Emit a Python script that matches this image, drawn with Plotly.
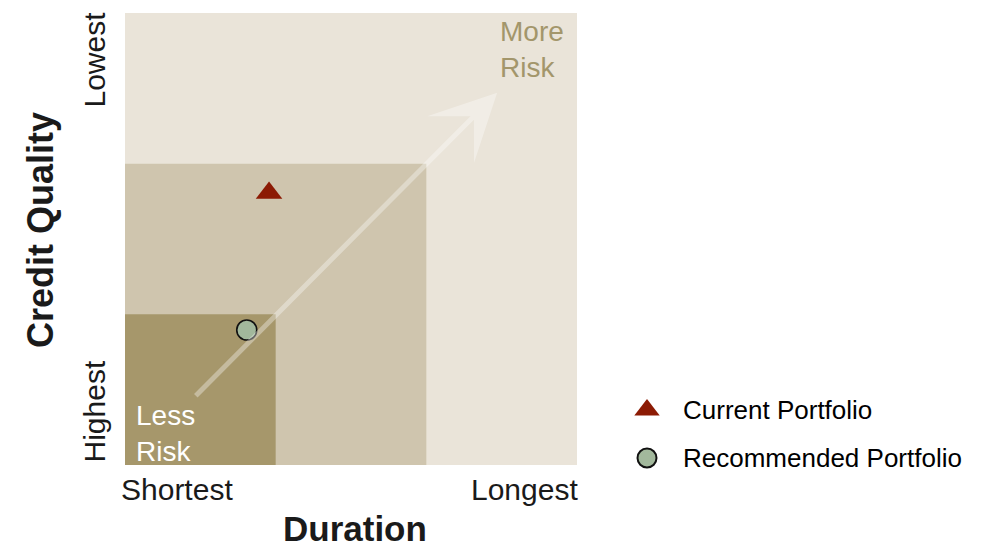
import plotly.graph_objects as go

# Risk zones (upper bound on both axes, scale 0-3), from outermost to innermost
zone_bounds = [3, 2, 1]
zone_colors = ["#EAE4D9", "#CFC5AE", "#A6976B"]

# Portfolio positions (duration, credit quality) on the 0-3 scale
portfolio_names = ["Current Portfolio", "Recommended Portfolio"]
portfolio_x = [0.956, 0.808]
portfolio_y = [1.805, 0.896]
portfolio_symbols = ["triangle-up", "circle"]
portfolio_colors = ["#8C1B04", "#A2B89C"]
portfolio_sizes = [23, 20]
portfolio_outline = [0, 1.6]

# Risk direction arrow (tail -> head)
arrow_x = [0.46, 2.47]
arrow_y = [0.45, 2.47]

x_tick_labels = ["Shortest", "Longest"]
y_tick_labels = ["Highest", "Lowest"]

FONT = "Liberation Sans, Arial, sans-serif"
W, H = 981, 548
ML, MR, MT, MB = 125, 0, 13, 83
PLOT_W = W - ML - MR
PLOT_H = H - MT - MB
MAIN_W = 452                     # width of the square risk grid in px


def px(xp):
    """Horizontal pixel -> paper fraction."""
    return (xp - ML) / PLOT_W


def py(yp):
    """Vertical pixel -> paper fraction."""
    return (H - MB - yp) / PLOT_H


fig = go.Figure()

# Nested risk squares
for bound, color in zip(zone_bounds, zone_colors):
    fig.add_shape(type="rect", xref="x", yref="y", x0=0, y0=0, x1=bound, y1=bound,
                  fillcolor=color, line_width=0, layer="below")

# Portfolio markers
for i, name in enumerate(portfolio_names):
    fig.add_trace(go.Scatter(
        x=[portfolio_x[i]], y=[portfolio_y[i]], mode="markers", name=name,
        showlegend=False, xaxis="x", yaxis="y",
        marker=dict(symbol=portfolio_symbols[i], size=portfolio_sizes[i],
                    color=portfolio_colors[i],
                    line=dict(width=portfolio_outline[i], color="#111111")),
    ))

# Key (drawn on its own hidden axes so its symbols keep full size)
key_rows = list(range(len(portfolio_names)))
for i, name in enumerate(portfolio_names):
    fig.add_trace(go.Scatter(
        x=[0.0], y=[-key_rows[i]], mode="markers", name=name,
        showlegend=False, xaxis="x2", yaxis="y2", cliponaxis=False,
        marker=dict(symbol=portfolio_symbols[i], size=portfolio_sizes[i] - 1,
                    color=portfolio_colors[i],
                    line=dict(width=portfolio_outline[i] + (0.4 if i else 0), color="#111111")),
    ))
    fig.add_annotation(x=0.0, y=-key_rows[i], xref="x2", yref="y2", xshift=34,
                       text=name, showarrow=False, xanchor="left", yanchor="middle",
                       font=dict(family=FONT, size=26, color="#000000"))

# Arrow pointing toward higher risk
fig.add_annotation(x=arrow_x[1], y=arrow_y[1], ax=arrow_x[0], ay=arrow_y[0],
                   xref="x", yref="y", axref="x", ayref="y", text="",
                   showarrow=True, arrowhead=3, arrowsize=2.2, arrowwidth=5,
                   arrowcolor="rgba(255,255,255,0.35)", standoff=0, startstandoff=0)

# Zone captions
fig.add_annotation(x=px(498), y=py(49), xref="paper", yref="paper", text="More<br>Risk",
                   showarrow=False, xanchor="left", yanchor="middle", align="left",
                   font=dict(family=FONT, size=28, color="#A3966B"))
fig.add_annotation(x=px(134), y=py(433), xref="paper", yref="paper", text="Less<br>Risk",
                   showarrow=False, xanchor="left", yanchor="middle", align="left",
                   font=dict(family=FONT, size=28, color="#FFFFFF"))

# Axis end labels
tick_font = dict(family=FONT, size=30, color="#1a1a1a")
fig.add_annotation(x=px(119), y=py(465), xref="paper", yref="paper", yshift=-6,
                   text=x_tick_labels[0], showarrow=False, xanchor="left", yanchor="top",
                   font=tick_font)
fig.add_annotation(x=px(580), y=py(465), xref="paper", yref="paper", yshift=-6,
                   text=x_tick_labels[1], showarrow=False, xanchor="right", yanchor="top",
                   font=tick_font)
fig.add_annotation(x=px(112), y=py(465), xref="paper", yref="paper",
                   text=y_tick_labels[0], showarrow=False, xanchor="right", yanchor="bottom",
                   textangle=-90, font=tick_font)
fig.add_annotation(x=px(112), y=py(10), xref="paper", yref="paper",
                   text=y_tick_labels[1], showarrow=False, xanchor="right", yanchor="top",
                   textangle=-90, font=tick_font)

# Axis titles
fig.add_annotation(x=px(355), y=py(507), xref="paper", yref="paper", text="<b>Duration</b>",
                   showarrow=False, xanchor="center", yanchor="top",
                   font=dict(family=FONT, size=35, color="#1a1a1a"))
fig.add_annotation(x=px(40), y=py(230), xref="paper", yref="paper", text="<b>Credit Quality</b>",
                   showarrow=False, xanchor="center", yanchor="middle", textangle=-90,
                   font=dict(family=FONT, size=36, color="#1a1a1a"))

hidden = dict(showticklabels=False, showgrid=False, zeroline=False,
              showline=False, ticks="", fixedrange=True)

# Key axes: one row per 48 px, first row centred at y = 410 px, symbols at x = 647 px
# (xaxis2 is in pixel units, so the key symbols sit at x = 0)
KEY_LEFT = 620
row_px = 48
fig.update_layout(
    xaxis=dict(range=[0, 3], domain=[0, MAIN_W / PLOT_W], **hidden),
    yaxis=dict(range=[0, 3], domain=[0, 1], **hidden),
    xaxis2=dict(range=[-(647 - KEY_LEFT), W - 647], domain=[px(KEY_LEFT), 1],
                anchor="y2", **hidden),
    yaxis2=dict(range=[-(H - MB - 410) / row_px, (410 - MT) / row_px], domain=[0, 1],
                anchor="x2", **hidden),
)

fig.update_layout(
    width=W, height=H,
    margin=dict(l=ML, r=MR, t=MT, b=MB),
    paper_bgcolor="white", plot_bgcolor="white",
    showlegend=False,
)

fig.write_html("out.html")
